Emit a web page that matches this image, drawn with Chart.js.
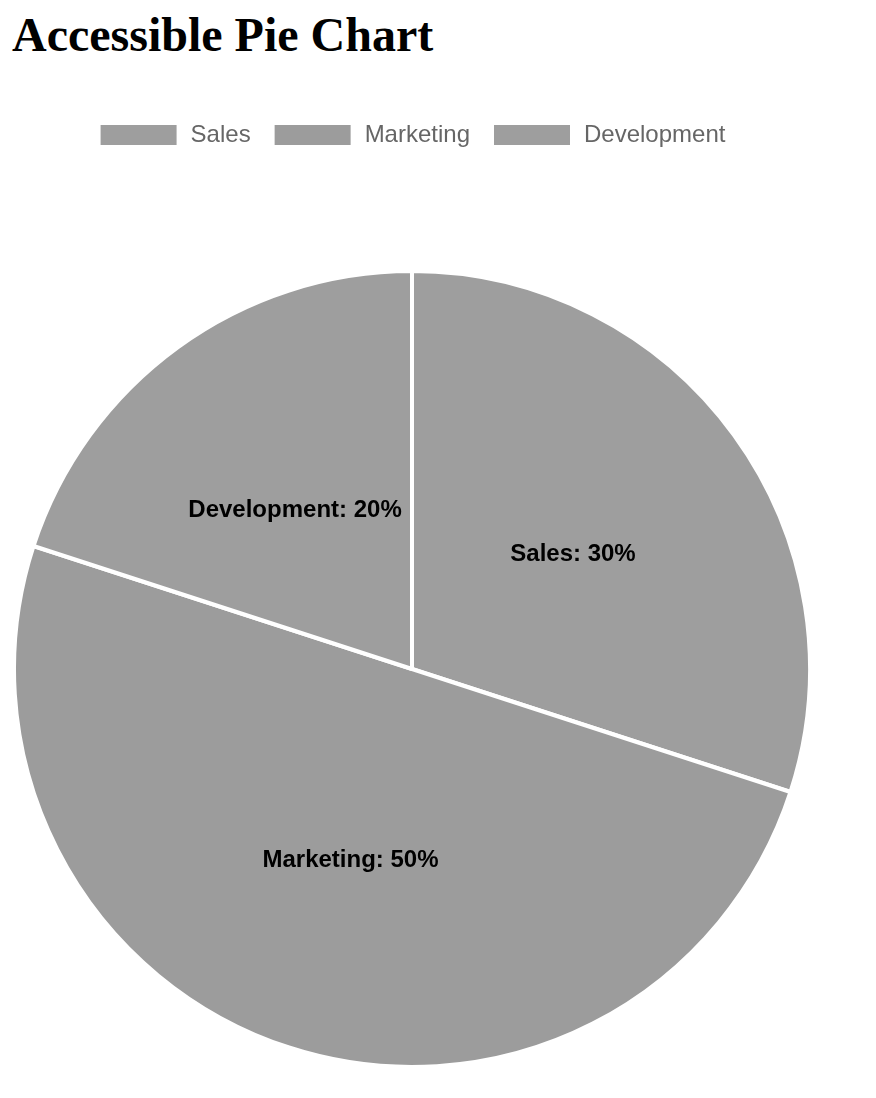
<!DOCTYPE html>
<html lang="en">
<head>
<meta charset="utf-8">
<title>Accessible Pie Chart</title>
<script src="https://cdn.jsdelivr.net/npm/chart.js@4.4.1/dist/chart.umd.min.js"></script>
<style>
  html, body {
    margin: 0;
    padding: 0;
    background: #fff;
    overflow: hidden;
  }
  h1 {
    position: absolute;
    left: 12px;
    top: 11px;
    margin: 0;
    font-family: "Times New Roman", "Liberation Serif", serif;
    font-weight: bold;
    font-size: 48px;
    line-height: 48px;
    color: #000;
  }
  .chart-wrap {
    position: absolute;
    left: 12px;
    top: 101px;
    width: 800px;
    height: 1080px;
  }
</style>
</head>
<body>
<h1>Accessible Pie Chart</h1>
<div class="chart-wrap">
  <canvas id="pieChart" role="img" aria-label="Pie chart: Sales 30%, Marketing 50%, Development 20%"></canvas>
</div>
<script>
  const departments = ["Sales", "Marketing", "Development"];
  const shares = [30, 50, 20];
  const sliceColors = ["#9e9e9e", "#9c9c9c", "#9e9e9e"];

  const labelFont = "Helvetica, Arial, 'Liberation Sans', sans-serif";

  // draws "Label: value%" in the middle of each slice
  const sliceLabels = {
    id: "sliceLabels",
    afterDatasetsDraw(chart) {
      const { ctx } = chart;
      const meta = chart.getDatasetMeta(0);
      const data = chart.data.datasets[0].data;

      ctx.save();
      ctx.font = `bold 24px ${labelFont}`;
      ctx.fillStyle = "#000";
      ctx.textAlign = "center";
      ctx.textBaseline = "middle";
      meta.data.forEach((arc, i) => {
        const pos = arc.getCenterPoint();
        // small nudge so the text sits like the original's
        ctx.fillText(`${chart.data.labels[i]}: ${data[i]}%`, pos.x, pos.y + 2);
      });
      ctx.restore();
    },
  };

  new Chart(document.getElementById("pieChart"), {
    type: "pie",
    data: {
      labels: departments,
      datasets: [
        {
          data: shares,
          backgroundColor: sliceColors,
          borderColor: "#fff",
          borderWidth: 4,
          hoverBorderWidth: 4,
        },
      ],
    },
    options: {
      responsive: true,
      maintainAspectRatio: false,
      animation: false,
      layout: { padding: 0 },
      plugins: {
        legend: {
          position: "top",
          labels: {
            // the white slice border is stroked round the box too
            boxWidth: 80,
            boxHeight: 24,
            padding: 22,
            color: "#666",
            font: { size: 24, family: labelFont },
          },
        },
        tooltip: { enabled: false },
      },
    },
    plugins: [sliceLabels],
  });
</script>
</body>
</html>
